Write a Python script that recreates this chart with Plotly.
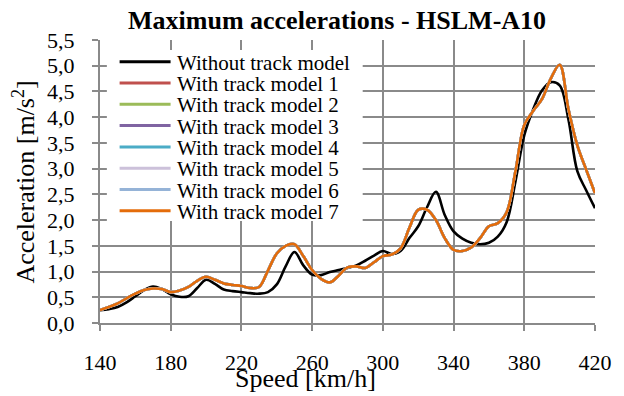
import plotly.graph_objects as go

speed = list(range(140, 425, 5))

without_track = [0.25, 0.27, 0.31, 0.40, 0.52, 0.64, 0.71, 0.66, 0.56, 0.51,
                 0.52, 0.68, 0.84, 0.76, 0.65, 0.62, 0.60, 0.58, 0.57, 0.60,
                 0.75, 1.10, 1.38, 1.12, 0.94, 0.93, 0.99, 1.03, 1.07, 1.12,
                 1.21, 1.31, 1.40, 1.34, 1.40, 1.65, 1.88, 2.25, 2.55, 2.10,
                 1.78, 1.64, 1.56, 1.53, 1.56, 1.68, 1.96, 2.75, 3.65, 4.15,
                 4.52, 4.68, 4.62, 3.95, 2.95, 2.58, 2.23]

with_track = [0.25, 0.31, 0.38, 0.48, 0.57, 0.64, 0.67, 0.66, 0.60, 0.63,
              0.70, 0.82, 0.90, 0.84, 0.77, 0.74, 0.72, 0.68, 0.70, 1.02,
              1.35, 1.50, 1.53, 1.30, 1.03, 0.86, 0.79, 0.92, 1.08, 1.10,
              1.07, 1.18, 1.30, 1.33, 1.45, 1.85, 2.20, 2.20, 2.00, 1.65,
              1.42, 1.40, 1.47, 1.65, 1.88, 1.94, 2.15, 2.95, 3.85, 4.12,
              4.35, 4.75, 5.02, 4.15, 3.45, 2.98, 2.52]

series_names = ["Without track model", "With track model 1", "With track model 2",
                "With track model 3", "With track model 4", "With track model 5",
                "With track model 6", "With track model 7"]
series_colors = ["#000000", "#C0504D", "#9BBB59", "#8064A2", "#4BACC6",
                 "#CCC1DA", "#95B3D7", "#E46C0A"]
series_values = [without_track] + [with_track] * 7

FONT = "'Times New Roman', 'Liberation Serif', 'DejaVu Serif', serif"
GRID = "#8a8a8a"

fig = go.Figure()
for name, color, vals in zip(series_names, series_colors, series_values):
    fig.add_trace(go.Scatter(x=speed, y=vals, name=name, mode="lines",
                             line=dict(color=color, width=2.6, shape="spline", smoothing=1.0),
                             showlegend=False))

# plot area in pixels: x 100..605, y 40..323
L, R, T, B = 100, 605, 40, 323
W, H = 624, 396
pw, ph = R - L, B - T

def px(x):
    return (x - L) / pw

def py(y):
    return (B - y) / ph

shapes = [dict(type="rect", xref="paper", yref="paper",
               x0=px(107), x1=px(368), y0=py(221), y1=py(50),
               fillcolor="white", line=dict(width=0), layer="above")]
annotations = []
for i, (name, color) in enumerate(zip(series_names, series_colors)):
    yy = 61.7 + 21.3 * i
    shapes.append(dict(type="line", xref="paper", yref="paper",
                       x0=px(120), x1=px(172), y0=py(yy), y1=py(yy),
                       line=dict(color=color, width=3), layer="above"))
    annotations.append(dict(text=name, xref="paper", yref="paper",
                            x=px(177), y=py(yy + 1), xanchor="left", yanchor="middle",
                            showarrow=False, font=dict(family=FONT, size=21, color="black")))

annotations.append(dict(text="Speed [km/h]", xref="paper", yref="paper",
                        x=px(310), y=py(378), xanchor="center", yanchor="middle",
                        showarrow=False, font=dict(family=FONT, size=26, color="black")))
annotations.append(dict(text="Acceleration [m/s<sup>2</sup>]", xref="paper", yref="paper",
                        x=px(22), y=py(182), xanchor="center", yanchor="middle", textangle=-90,
                        showarrow=False, font=dict(family=FONT, size=26, color="black")))
annotations.append(dict(text="<b>Maximum accelerations - HSLM-A10</b>", xref="paper", yref="paper",
                        x=px(342), y=py(21), xanchor="center", yanchor="middle",
                        showarrow=False, font=dict(family=FONT, size=26, color="black")))

fig.update_layout(
    width=W, height=H,
    margin=dict(l=L, r=W - R, t=T, b=H - B),
    paper_bgcolor="white", plot_bgcolor="white",
    separators=",.",
    font=dict(family=FONT, size=22, color="black"),
    shapes=shapes, annotations=annotations,
    xaxis=dict(range=[140, 420], dtick=40, tick0=140, showgrid=True, gridcolor=GRID, gridwidth=2,
               showline=True, linecolor=GRID, linewidth=2, zeroline=False,
               ticks="outside", ticklen=6, tickwidth=2, tickcolor=GRID,
               ticklabelstandoff=13, tickfont=dict(family=FONT, size=22, color="black")),
    yaxis=dict(range=[0, 5.5], dtick=0.5, tick0=0, tickformat=".1f", showgrid=True,
               gridcolor=GRID, gridwidth=2, showline=True, linecolor=GRID, linewidth=2,
               zeroline=False, ticks="outside", ticklen=6, tickwidth=2, tickcolor=GRID,
               ticklabelstandoff=13, tickfont=dict(family=FONT, size=22, color="black")),
)

fig.write_html("out.html")
